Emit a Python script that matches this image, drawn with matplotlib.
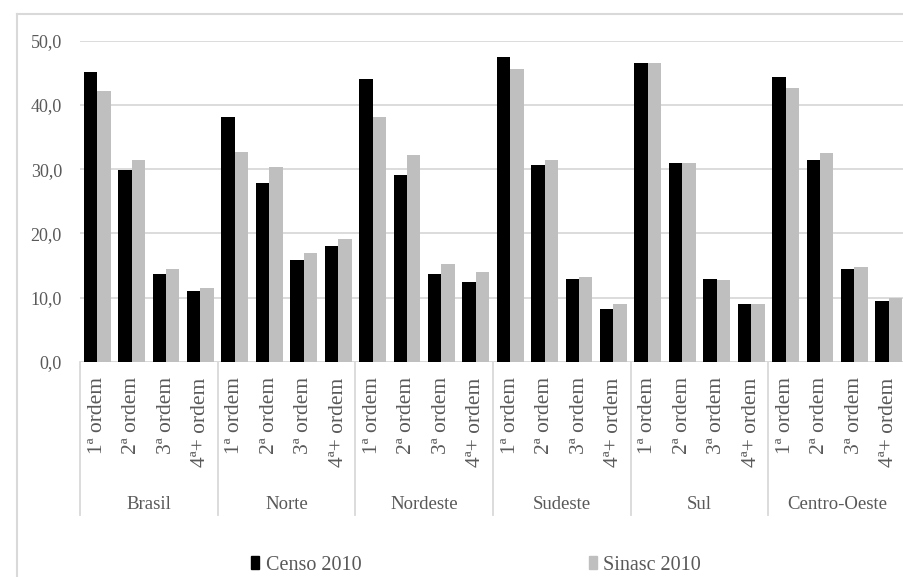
import numpy as np
import matplotlib.pyplot as plt
from matplotlib.patches import Patch
from matplotlib.lines import Line2D
from matplotlib.transforms import blended_transform_factory

plt.rcParams['font.family'] = ['Liberation Serif', 'DejaVu Serif']

regioes = ['Brasil', 'Norte', 'Nordeste', 'Sudeste', 'Sul', 'Centro-Oeste']
ordens = ['1ª ordem', '2ª ordem', '3ª ordem', '4ª+ ordem']

# percentuais por região, na ordem 1ª, 2ª, 3ª, 4ª+
censo = [45.1, 29.9, 13.7, 11.1,
         38.1, 27.9, 15.8, 18.0,
         44.1, 29.1, 13.7, 12.5,
         47.4, 30.7, 12.9, 8.3,
         46.5, 31.0, 12.9, 9.1,
         44.4, 31.4, 14.4, 9.5]
sinasc = [42.2, 31.5, 14.4, 11.5,
          32.7, 30.4, 16.9, 19.2,
          38.1, 32.2, 15.2, 14.0,
          45.6, 31.4, 13.3, 9.0,
          46.5, 30.9, 12.8, 9.1,
          42.6, 32.6, 14.8, 9.9]

cinza_txt = '#595959'
cinza_lin = '#d9d9d9'

fig = plt.figure(figsize=(9.04, 5.77), dpi=100)
ax = fig.add_axes([80/904, (577-362)/577, 826/904, 321.3/577])

x = np.arange(len(censo))
w = 0.39
ax.bar(x - w/2, censo, w, color='black', zorder=3)
ax.bar(x + w/2, sinasc, w, color='#bfbfbf', zorder=3)

ax.set_xlim(-0.5, len(censo) - 0.5)
ax.set_ylim(0, 50)
ax.set_yticks(np.arange(0, 51, 10))
ax.set_yticklabels([f'{v:.1f}'.replace('.', ',') for v in np.arange(0, 51, 10)])
ax.yaxis.grid(True, color=cinza_lin, linewidth=1.3, zorder=0)
ax.tick_params(axis='y', length=0, pad=13, labelsize=13, labelcolor=cinza_txt)

ax.set_xticks(x)
ax.set_xticklabels(ordens * len(regioes), rotation=90, va='top')
ax.tick_params(axis='x', length=0, pad=11, labelsize=15.5, labelcolor=cinza_txt)

for s in ax.spines.values():
    s.set_visible(False)
ax.axhline(0, color=cinza_lin, linewidth=1.3, zorder=2)

# divisórias e nomes das regiões abaixo do eixo
trans = blended_transform_factory(ax.transData, ax.transAxes)
for g in range(len(regioes) + 1):
    xs = g * 4 - 0.5
    ax.plot([xs, xs], [0, -0.476], color=cinza_lin, linewidth=1.3,
            transform=trans, clip_on=False)
for g, nome in enumerate(regioes):
    ax.text(g * 4 + 1.5, -0.445, nome, transform=trans, ha='center',
            va='center', fontsize=13.5, color=cinza_txt)

# moldura externa
fig.add_artist(Line2D([17/904, 17/904], [0, 1 - 14/577], color=cinza_lin,
                      linewidth=1.5, transform=fig.transFigure))
fig.add_artist(Line2D([17/904, 1], [1 - 14/577, 1 - 14/577], color=cinza_lin,
                      linewidth=1.5, transform=fig.transFigure))

handles = [Patch(color='black', label='Censo 2010'),
           Patch(color='#bfbfbf', label='Sinasc 2010')]
leg = fig.legend(handles=handles, loc='center', bbox_to_anchor=(476/904, 1 - 565/577),
                 ncol=2, frameon=False, fontsize=14.5, handlelength=0.4,
                 handleheight=0.65, handletextpad=0.3, columnspacing=11.3,
                 borderpad=0)
for t in leg.get_texts():
    t.set_color(cinza_txt)

fig.savefig('out.png', dpi=100)
